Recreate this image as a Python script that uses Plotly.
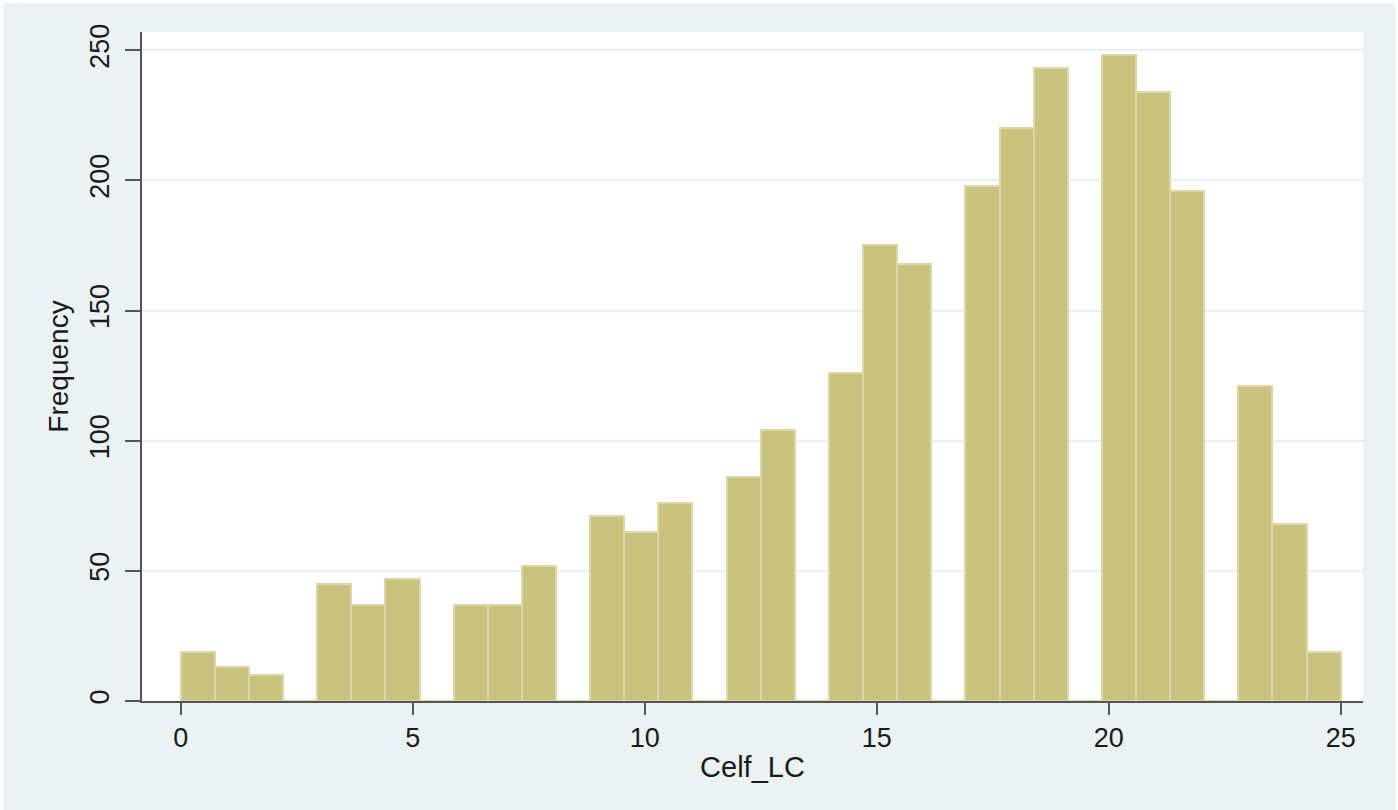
import numpy as np
import plotly.graph_objects as go

# Histogram of Celf_LC: 34 equal-width bins from 0 to 25
bin_start = 0.0
bin_end = 25.0
n_bins = 34
counts = [19, 13, 10, 0, 45, 37, 47, 0, 37, 37, 52, 0, 71, 65, 76, 0,
          86, 104, 0, 126, 175, 168, 0, 198, 220, 243, 0, 248, 234, 196, 0,
          121, 68, 19]
x_ticks = [0, 5, 10, 15, 20, 25]
y_ticks = [0, 50, 100, 150, 200, 250]

bw = (bin_end - bin_start) / n_bins
centers = bin_start + bw * (np.arange(n_bins) + 0.5)

fig = go.Figure()
fig.add_trace(go.Bar(
    x=centers, y=counts, width=bw,
    marker=dict(color="#C9C37F", line=dict(color="#DCD8A6", width=2)),
    showlegend=False,
))

font = "Liberation Sans, Arial, sans-serif"
fig.update_layout(
    width=1398, height=810,
    margin=dict(l=139, r=38, t=29, b=112),
    paper_bgcolor="#EAF2F3",
    plot_bgcolor="#FFFFFF",
    font=dict(family=font, color="#1a1a1a", size=26),
    bargap=0,
)
fig.update_xaxes(
    range=[-0.834, 25.48],
    tickmode="array", tickvals=x_ticks,
    ticks="outside", ticklen=12, tickwidth=2, tickcolor="#555555",
    showline=True, linecolor="#555555", linewidth=2,
    showgrid=False, zeroline=False,
    tickfont=dict(size=27),
    ticklabelstandoff=0,
    title=dict(text="Celf_LC", font=dict(size=29), standoff=4),
)
fig.update_yaxes(
    range=[0, 257],
    tickmode="array", tickvals=y_ticks,
    ticks="outside", ticklen=15, tickwidth=2, tickcolor="#555555",
    showline=True, linecolor="#555555", linewidth=2,
    showgrid=True, gridcolor="#E6EFF1", gridwidth=2,
    zeroline=False,
    tickangle=-90,
    tickfont=dict(size=27),
    ticklabelstandoff=5,
    title=dict(text="Frequency", font=dict(size=28), standoff=8),
)

fig.write_html("out.html", post_script="document.body.style.margin='3px';")
